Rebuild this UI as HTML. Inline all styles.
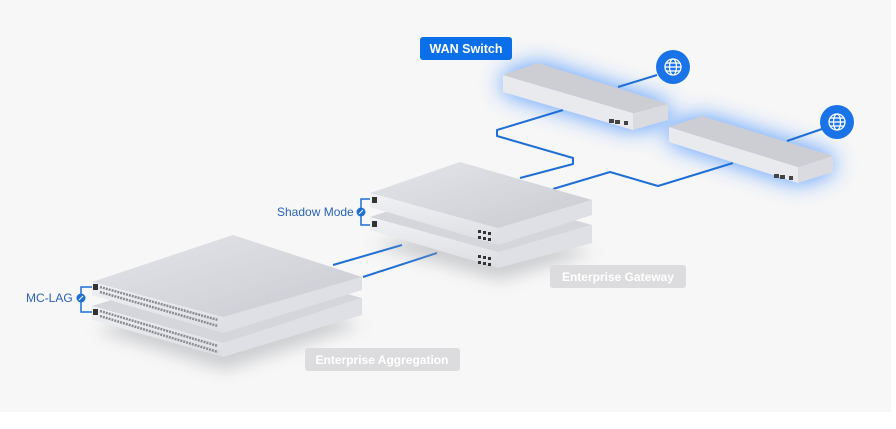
<!DOCTYPE html>
<html><head><meta charset="utf-8"><style>
html,body{margin:0;padding:0;background:#fff;}
body{width:896px;height:424px;overflow:hidden;font-family:"Liberation Sans",sans-serif;}
</style></head><body>
<svg width="896" height="424" viewBox="0 0 896 424" xmlns="http://www.w3.org/2000/svg">
<defs>
<filter id="glow" x="-40%" y="-100%" width="180%" height="300%"><feGaussianBlur stdDeviation="12"/></filter>
<filter id="sh" x="-30%" y="-50%" width="160%" height="200%"><feGaussianBlur stdDeviation="8"/></filter>
<linearGradient id="top" x1="0" y1="0" x2="1" y2="1"><stop offset="0" stop-color="#e4e5ea"/><stop offset="1" stop-color="#c9cbd2"/></linearGradient>
<linearGradient id="front" x1="0" y1="0" x2="0" y2="1"><stop offset="0" stop-color="#f1f2f5"/><stop offset="1" stop-color="#dcdde2"/></linearGradient>
</defs>
<rect x="0" y="0" width="891" height="412" fill="#f7f7f7"/>

<!-- glow -->
<g filter="url(#glow)" fill="#3d8bff" opacity="0.9">
<polygon points="503,75 538,63 668,104 668,120 633,130 503,92"/>
<polygon points="669,127 702,116 833,156 833,172 798,183 669,142"/>
</g>

<!-- cables -->
<g fill="none" stroke="#1f6fd6" stroke-width="2" stroke-linejoin="round">
<path d="M618,87 L657,75"/>
<path d="M787,141 L822,129"/>
<path d="M563,110 L497,130 L497,136 L573,158 L573,164 L520,178"/>
<path d="M733,163 L658,186 L610,172 L553,189"/>
<path d="M333,265 L402,245"/>
<path d="M363,277 L437,253"/>
</g>

<!-- globes -->
<g>
<circle cx="673" cy="67" r="17" fill="#1a73e8"/>
<circle cx="837" cy="122" r="17" fill="#1a73e8"/>
<g fill="none" stroke="#fff" stroke-width="1.3">
<circle cx="673" cy="67" r="8"/><ellipse cx="673" cy="67" rx="3.5" ry="8"/><line x1="665" y1="67" x2="681" y2="67"/><line x1="666" y1="63" x2="680" y2="63"/><line x1="666" y1="71" x2="680" y2="71"/>
<circle cx="837" cy="122" r="8"/><ellipse cx="837" cy="122" rx="3.5" ry="8"/><line x1="829" y1="122" x2="845" y2="122"/><line x1="830" y1="118" x2="844" y2="118"/><line x1="830" y1="126" x2="844" y2="126"/>
</g>
</g>

<!-- WAN switches -->
<g>
<polygon points="503,75 538,63 668,104 633,113" fill="#cdced3"/>
<polygon points="503,75 633,113 633,130 503,92" fill="#e9eaee"/>
<polygon points="633,113 668,104 668,120 633,130" fill="#dadbe0"/>
<rect x="609" y="119" width="5" height="4" fill="#444"/><rect x="615" y="120" width="5" height="4" fill="#444"/><rect x="624" y="121" width="4" height="4" fill="#444"/>
<polygon points="669,127 702,116 833,156 798,167" fill="#cdced3"/>
<polygon points="669,127 798,167 798,183 669,142" fill="#e9eaee"/>
<polygon points="798,167 833,156 833,172 798,183" fill="#dadbe0"/>
<rect x="774" y="174" width="5" height="4" fill="#444"/><rect x="780" y="175" width="5" height="4" fill="#444"/><rect x="789" y="176" width="4" height="4" fill="#444"/>
</g>

<!-- shadows -->
<g filter="url(#sh)" fill="#9a9ca3" opacity="0.45">
<polygon points="372,245 500,280 594,252 470,225"/>
<polygon points="95,330 225,370 362,325 240,290"/>
</g>

<!-- Gateway bottom unit -->
<polygon points="370,217 460,188 592,225 498,252" fill="#d5d6db"/>
<polygon points="370,217 498,252 498,268 370,230" fill="url(#front)"/>
<polygon points="498,252 592,225 592,243 498,268" fill="#dfe0e5"/>
<!-- Gateway top unit -->
<polygon points="370,193 460,162 592,200 498,228" fill="url(#top)"/>
<polygon points="370,193 498,228 498,245 370,207" fill="url(#front)"/>
<polygon points="498,228 592,200 592,215 498,245" fill="#dfe0e5"/>
<g fill="#333">
<rect x="372" y="197" width="5" height="6"/><rect x="372" y="221" width="5" height="6"/>
<rect x="478" y="230" width="3" height="3"/><rect x="483" y="231" width="3" height="3"/><rect x="488" y="232" width="3" height="3"/>
<rect x="478" y="236" width="3" height="3"/><rect x="483" y="237" width="3" height="3"/><rect x="488" y="238" width="3" height="3"/>
<rect x="478" y="255" width="3" height="3"/><rect x="483" y="256" width="3" height="3"/><rect x="488" y="257" width="3" height="3"/>
<rect x="478" y="261" width="3" height="3"/><rect x="483" y="262" width="3" height="3"/><rect x="488" y="263" width="3" height="3"/>
</g>

<!-- Aggregation bottom unit -->
<polygon points="92,306 233,262 362,298 223,343" fill="#d5d6db"/>
<polygon points="92,306 223,343 223,357 92,320" fill="url(#front)"/>
<polygon points="223,343 362,298 362,315 223,357" fill="#dfe0e5"/>
<!-- Aggregation top unit -->
<polygon points="92,282 233,235 362,277 223,317" fill="url(#top)"/>
<polygon points="92,282 223,317 223,333 92,295" fill="url(#front)"/>
<polygon points="223,317 362,277 362,290 223,333" fill="#dfe0e5"/>
<g stroke="#8a8c93" stroke-width="2.5" stroke-dasharray="2 1">
<line x1="100" y1="287" x2="218" y2="320"/><line x1="100" y1="292" x2="218" y2="326"/>
<line x1="100" y1="311" x2="218" y2="346"/><line x1="100" y1="316" x2="218" y2="352"/>
</g>
<rect x="93" y="284" width="5" height="6" fill="#333"/><rect x="93" y="309" width="5" height="6" fill="#333"/>

<!-- brackets -->
<g fill="none" stroke="#1f6fd6" stroke-width="1.5">
<path d="M370,199 L361,199 L361,225 L370,225"/>
<path d="M92,287 L81,287 L81,312 L92,312"/>
</g>
<circle cx="361" cy="212" r="4.5" fill="#1f6fd6"/>
<circle cx="81" cy="298" r="4.5" fill="#1f6fd6"/>
<path d="M359,214 L363,210 M79,300 L83,296" stroke="#fff" stroke-width="1"/>

<!-- labels -->
<text x="277" y="216" font-size="12" fill="#2b62b5" font-family="Liberation Sans, sans-serif">Shadow Mode</text>
<text x="26" y="302" font-size="12" fill="#2b62b5" font-family="Liberation Sans, sans-serif">MC-LAG</text>

<rect x="420" y="37" width="92" height="23" rx="3" fill="#0a6fe8"/>
<text x="466" y="53" font-size="12.5" font-weight="bold" fill="#fff" text-anchor="middle" font-family="Liberation Sans, sans-serif">WAN Switch</text>

<rect x="550" y="265" width="136" height="23" rx="3" fill="#dcdcde"/>
<text x="618" y="281" font-size="12" font-weight="bold" fill="#fff" text-anchor="middle" font-family="Liberation Sans, sans-serif">Enterprise Gateway</text>

<rect x="305" y="348" width="155" height="23" rx="3" fill="#dcdcde"/>
<text x="382" y="364" font-size="12" font-weight="bold" fill="#fff" text-anchor="middle" font-family="Liberation Sans, sans-serif">Enterprise Aggregation</text>
</svg>
</body></html>
